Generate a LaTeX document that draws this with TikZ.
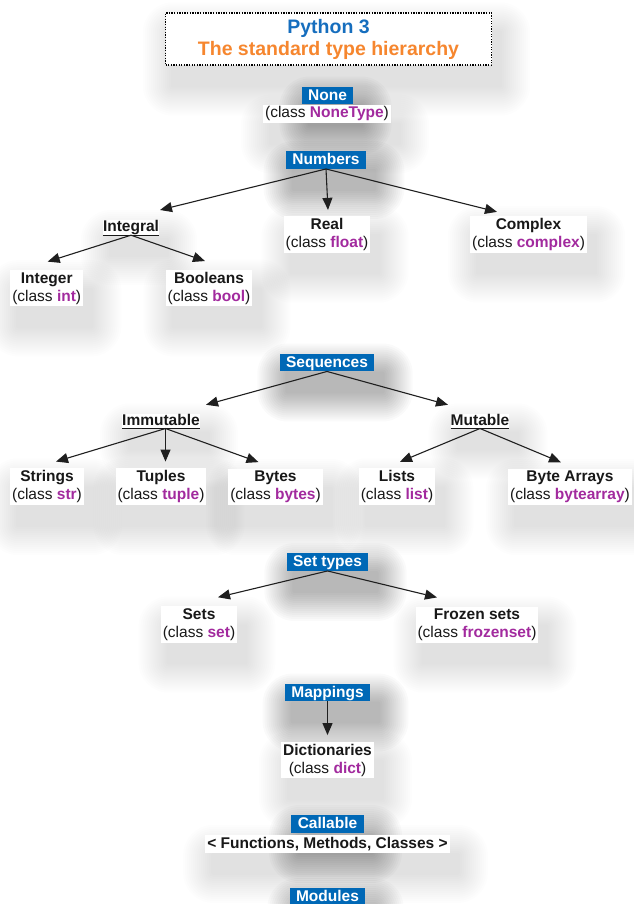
\documentclass[tikz,border=0pt]{standalone}
\usepackage{fontspec}
\setmainfont{Liberation Sans}
\usetikzlibrary{arrows.meta,backgrounds}
\definecolor{boxblue}{RGB}{0,104,182}
\definecolor{titleblue}{RGB}{22,110,190}
\definecolor{titleorange}{RGB}{246,134,46}
\definecolor{mag}{RGB}{162,42,158}
\definecolor{txt}{RGB}{24,24,24}
\newcommand\lbl{\fontsize{15.5}{18}\selectfont}
\newcommand\cls[1]{(class \textcolor{mag}{\textbf{#1}})}
% #1 = opacity per layer, #2 = node name
\newcommand\softshadow[2]{%
  \foreach \e in {30,28,...,2} {%
    \fill[black, opacity=#1, rounded corners=\e pt]
      ([shift={(8-\e,-20-\e)}]#2.south west) rectangle ([shift={(8+\e,-20+\e)}]#2.north east);
  }}
\tikzset{
  hdr/.style={fill=boxblue, text=white, font=\lbl\bfseries, inner xsep=6.5pt, inner ysep=0pt, text height=13.5pt, text depth=4pt},
  kid/.style={fill=white, align=center, font=\lbl, text=txt, inner xsep=2pt, inner ysep=2pt, anchor=base},
  ul/.style={fill=white, font=\lbl\bfseries, text=txt, inner sep=0pt, text height=11.5pt, text depth=3.3pt, anchor=base},
  arr/.style={-{Triangle[length=12pt,width=10pt]}, line width=1.1pt, draw=black!88},
  uline/.style={line width=1.3pt, draw=txt},
}
\begin{document}
\begin{tikzpicture}[x=1pt,y=1pt]
\useasboundingbox (0,0) rectangle (633,-904);

% title
\node[fill=white, draw=black, line width=1.3pt, dash pattern=on 1.3pt off 1.3pt,
      minimum width=326pt, minimum height=52pt, align=center,
      font=\fontsize{19.5}{22}\selectfont\bfseries, inner sep=0pt] (title) at (328.5,-39)
  {\textcolor{titleblue}{Python 3}\\\textcolor{titleorange}{The standard type hierarchy}};

% None
\node[hdr] (none) at (327.5,-95.5) {None};
\node[kid] (nonetype) at (327,-118) {\cls{NoneType}};

% Numbers
\node[hdr] (numbers) at (326,-160) {Numbers};
\node[ul] (integral) at (131,-231.7) {Integral};
\node[kid] (real) at (327,-247.3) {\textbf{Real}\\\cls{float}};
\node[kid] (complex) at (528.5,-247.3) {\textbf{Complex}\\\cls{complex}};
\node[kid] (integer) at (46.7,-301) {\textbf{Integer}\\\cls{int}};
\node[kid] (booleans) at (209,-301) {\textbf{Booleans}\\\cls{bool}};
\draw[uline] (integral.south west) -- (integral.south east);

\draw[arr] (numbers.south) -- ([xshift=29pt,yshift=10pt]integral.north);
\draw[arr] (numbers.south) -- ([xshift=1pt,yshift=6pt]real.north);
\draw[arr] (numbers.south) -- ([xshift=-31.5pt,yshift=4pt]complex.north);
\draw[arr] (integral.south) -- ([xshift=1pt,yshift=8.5pt]integer.north);
\draw[arr] (integral.south) -- ([xshift=-4pt,yshift=8.5pt]booleans.north);

% Sequences
\node[hdr] (sequences) at (327,-362.5) {Sequences};
\node[ul] (immutable) at (161,-425) {Immutable};
\node[ul] (mutable) at (480,-425) {Mutable};
\draw[uline] (immutable.south west) -- (immutable.south east);
\draw[uline] (mutable.south west) -- (mutable.south east);
\node[kid] (strings) at (47,-499.7) {\textbf{Strings}\\\cls{str}};
\node[kid] (tuples) at (161,-499.7) {\textbf{Tuples}\\\cls{tuple}};
\node[kid] (bytes) at (275.5,-499.7) {\textbf{Bytes}\\\cls{bytes}};
\node[kid] (lists) at (397,-499.7) {\textbf{Lists}\\\cls{list}};
\node[kid] (bytearrays) at (570,-499.7) {\textbf{Byte Arrays}\\\cls{bytearray}};

\draw[arr] (sequences.south) -- ([xshift=45pt,yshift=8.5pt]immutable.north);
\draw[arr] (sequences.south) -- ([xshift=-32pt,yshift=8.5pt]mutable.north);
\draw[arr] ([xshift=4.5pt]immutable.south) -- ([xshift=9pt,yshift=6.7pt]strings.north);
\draw[arr] ([xshift=4.5pt]immutable.south) -- ([xshift=4.5pt,yshift=6.7pt]tuples.north);
\draw[arr] ([xshift=4.5pt]immutable.south) -- ([xshift=-17pt,yshift=6.7pt]bytes.north);
\draw[arr] (mutable.south) -- ([xshift=3pt,yshift=6.5pt]lists.north);
\draw[arr] (mutable.south) -- ([xshift=-9pt,yshift=6.5pt]bytearrays.north);

% Set types
\node[hdr] (settypes) at (327.5,-562) {Set types};
\node[kid] (sets) at (199,-637.3) {\textbf{Sets}\\\cls{set}};
\node[kid] (frozensets) at (477,-637.3) {\textbf{Frozen sets}\\\cls{frozenset}};
\draw[arr] (settypes.south) -- ([xshift=19pt,yshift=9pt]sets.north);
\draw[arr] (settypes.south) -- ([xshift=-40pt,yshift=9pt]frozensets.north);

% Mappings
\node[hdr] (mappings) at (327.5,-692.5) {Mappings};
\node[kid] (dicts) at (327.5,-773) {\textbf{Dictionaries}\\\cls{dict}};
\draw[arr] (mappings.south) -- ([yshift=6.5pt]dicts.north);

% Callable
\node[hdr] (callable) at (327.5,-824) {Callable};
\node[kid, font=\lbl\bfseries] (funcs) at (327.5,-848.3) {< Functions, Methods, Classes >};

% Modules
\node[hdr] (modules) at (327.5,-897) {Modules};

% soft shadows behind everything
\begin{pgfonlayer}{background}
  \fill[white] (0,0) rectangle (633,-904);
  \foreach \n in {title,nonetype,integral,real,complex,integer,booleans,
                  immutable,mutable,strings,tuples,bytes,lists,bytearrays,
                  sets,frozensets,dicts,funcs}
    {\softshadow{0.008}{\n}}
  \foreach \n in {none,numbers,sequences,settypes,mappings,callable,modules}
    {\softshadow{0.02}{\n}}
\end{pgfonlayer}
\end{tikzpicture}
\end{document}
